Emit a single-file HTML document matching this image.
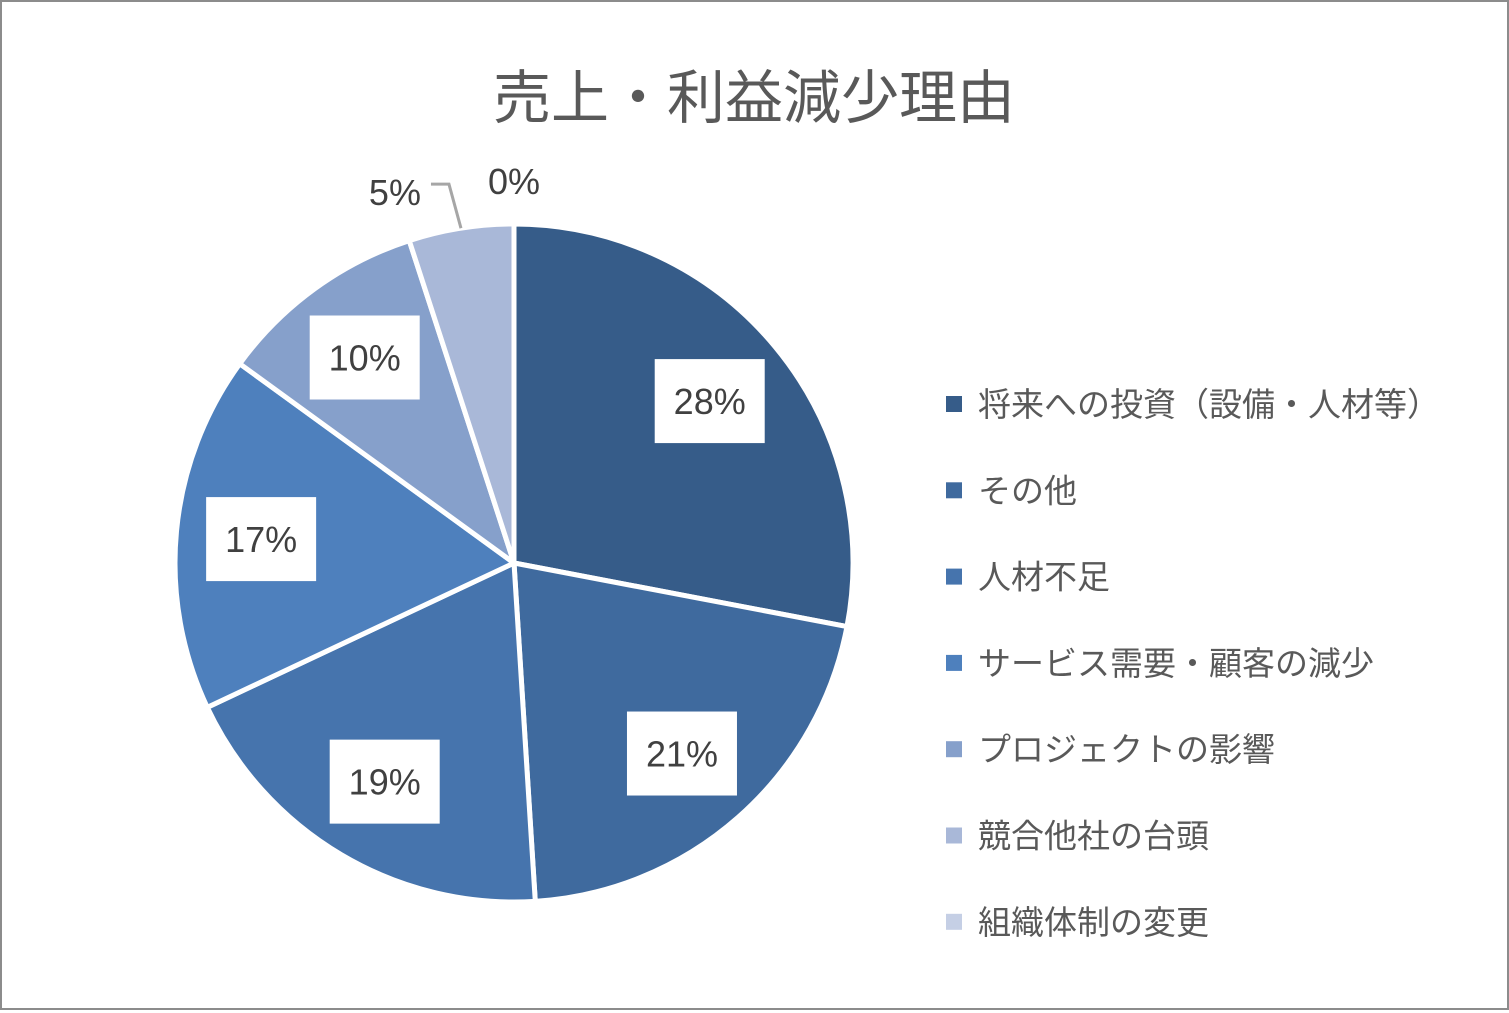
<!DOCTYPE html>
<html><head><meta charset="utf-8"><style>
body{margin:0;background:#fff;}
#wrap{position:relative;width:1509px;height:1010px;box-sizing:border-box;border:2px solid #8c8c8c;background:#fff;font-family:"Liberation Sans","Noto Sans CJK JP",sans-serif;}
</style></head><body>
<div id="wrap">
<svg id="svg" width="1505" height="1006"></svg>
</div>
<script>
const categories=["将来への投資（設備・人材等）","その他","人材不足","サービス需要・顧客の減少","プロジェクトの影響","競合他社の台頭","組織体制の変更"];
const values=[28,21,19,17,10,5,0];
const colors=["#365c89","#3f6a9e","#4674ad","#4e80bd","#86a0cb","#a9b8d8","#c5cfe5"];
const NS="http://www.w3.org/2000/svg";
const svg=document.getElementById('svg');
function mk(t,a,p){const e=document.createElementNS(NS,t);for(const k in a)e.setAttribute(k,a[k]);(p||svg).appendChild(e);return e;}
const title=mk('text',{x:752,y:116,'text-anchor':'middle','font-size':58,fill:'#595959'});


title.textContent="売上・利益減少理由";
const cx=512,cy=561,R=339;
const total=values.reduce((a,b)=>a+b,0);
function pt(ang,r){return [cx+r*Math.sin(ang),cy-r*Math.cos(ang)];}
let acc=0;
values.forEach((v,i)=>{
  const a0=acc/total*2*Math.PI;acc+=v;const a1=acc/total*2*Math.PI;
  const p0=pt(a0,R),p1=pt(a1,R);const large=(a1-a0)>Math.PI?1:0;
  if(v>0){
    const s=mk('path',{d:`M${cx},${cy}L${p0[0]},${p0[1]}A${R},${R} 0 ${large} 1 ${p1[0]},${p1[1]}Z`,fill:colors[i],stroke:'#fff','stroke-width':5,'stroke-linejoin':'round'});
    
    
  }
});
acc=0;
values.forEach((v,i)=>{
  const am=(acc+v/2)/total*2*Math.PI;acc+=v;
  const txt=v+'%';
  if(v/total>=0.08){
    const p=pt(am,254);
    const g=mk('g',{});
    
    
    mk('rect',{x:p[0]-55,y:p[1]-42,width:110,height:84,fill:'#fff'},g);
    const t=mk('text',{x:p[0],y:p[1]+13,'text-anchor':'middle','font-size':36,fill:'#404040'},g);
    t.textContent=txt;
  } else if(v>0){
    const e=pt(am,R);
    const l=mk('polyline',{points:`${e[0]},${e[1]} ${e[0]-12},${e[1]-44} ${e[0]-30},${e[1]-44}`,fill:'none',stroke:'#a6a6a6','stroke-width':3});
    
    
    const t=mk('text',{x:e[0]-40,y:e[1]-23,'text-anchor':'end','font-size':36,fill:'#404040'});
    
    
    t.textContent=txt;
  } else {
    const e=pt(am,R);
    const t=mk('text',{x:e[0],y:e[1]-30,'text-anchor':'middle','font-size':36,fill:'#404040'});
    
    
    t.textContent=txt;
  }
});
categories.forEach((c,i)=>{
  const y=402+i*86.3;
  const g=mk('g',{});
  
  
  mk('rect',{x:944,y:y-8,width:16,height:16,fill:colors[i]},g);
  const t=mk('text',{x:976,y:y+12,'font-size':33,fill:'#595959'},g);
  t.textContent=c;
});
</script>
</body></html>
